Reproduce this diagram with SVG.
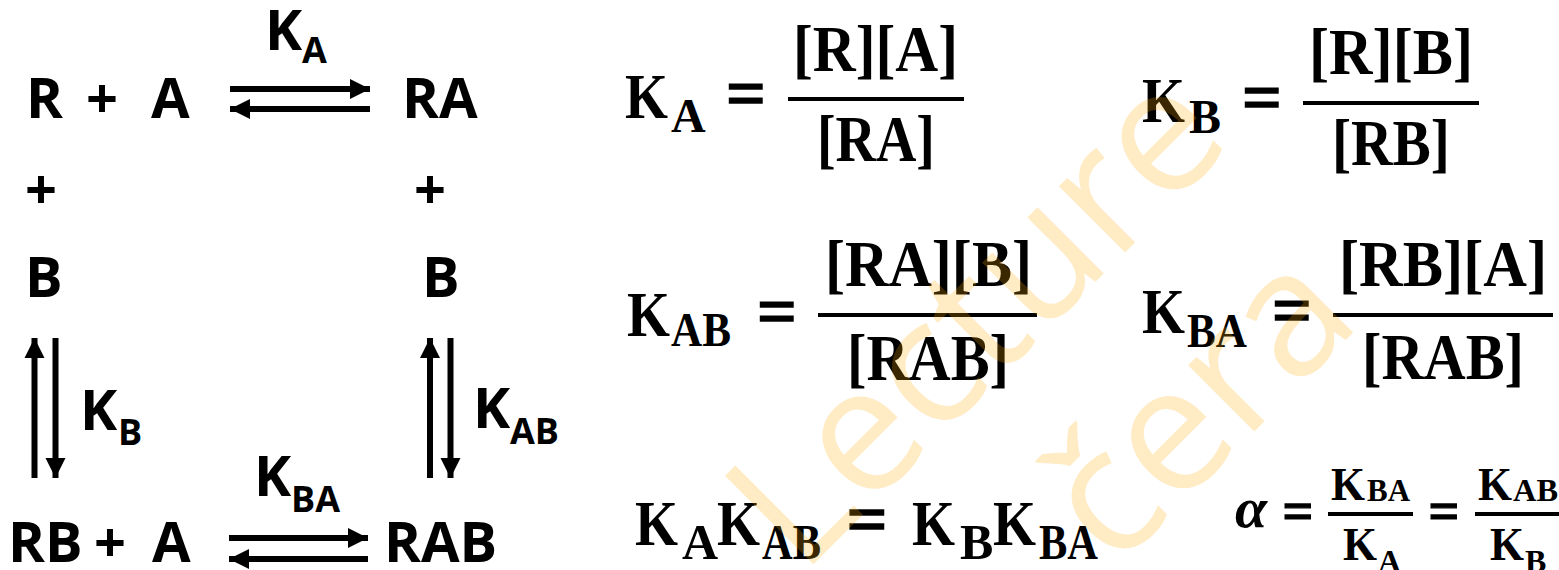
<svg xmlns="http://www.w3.org/2000/svg" width="1559" height="570" viewBox="0 0 1559 570">
<style>
.s{font-family:"Open Sans","Noto Sans",sans-serif;font-weight:700;fill:#000}
.m{font-family:"Liberation Serif","Times New Roman",serif;font-weight:700;fill:#000}
.eq{font-family:"Liberation Serif","Times New Roman",serif;font-weight:700;fill:#000;stroke:#000;stroke-width:1.4}
.ln{stroke:#000;stroke-width:6;fill:none}
.bar{stroke:#000;stroke-width:4}
.wm{font-family:"Open Sans","Noto Sans",sans-serif;font-size:175px;fill:#FFAA00;fill-opacity:0.23}
</style>
<defs>
<marker id="ah" viewBox="0 0 10 10" refX="10" refY="5" markerWidth="3.4" markerHeight="3.4" markerUnits="strokeWidth" orient="auto"><path d="M0,0 L10,5 L0,10 Z" fill="#000"/></marker>
</defs>
<rect width="1559" height="570" fill="#fff"/>

<g id="node-R-A">
<text class="s" x="26" y="118" font-size="56">R</text>
<text class="s" x="102" y="118" font-size="56" text-anchor="middle">+</text>
<text class="s" x="151" y="118" font-size="56">A</text>
</g>
<g id="node-RA"><text class="s" x="402" y="118" font-size="56">RA</text></g>
<g id="node-plus-left"><text class="s" x="41" y="209" font-size="56" text-anchor="middle">+</text></g>
<g id="node-plus-right"><text class="s" x="430" y="209" font-size="56" text-anchor="middle">+</text></g>
<g id="node-B-left"><text class="s" x="25" y="297" font-size="56">B</text></g>
<g id="node-B-right"><text class="s" x="422" y="297" font-size="56">B</text></g>
<g id="node-RB-A">
<text class="s" x="8" y="562" font-size="56">RB</text>
<text class="s" x="110" y="562" font-size="56" text-anchor="middle">+</text>
<text class="s" x="152" y="562" font-size="56">A</text>
</g>
<g id="node-RAB"><text class="s" x="384" y="562" font-size="56">RAB</text></g>

<g id="connectors">
<line class="ln" x1="230" y1="89" x2="370" y2="89" marker-end="url(#ah)"/>
<line class="ln" x1="370" y1="109" x2="230" y2="109" marker-end="url(#ah)"/>
<line class="ln" x1="229" y1="538" x2="368" y2="538" marker-end="url(#ah)"/>
<line class="ln" x1="368" y1="559" x2="229" y2="559" marker-end="url(#ah)"/>
<line class="ln" x1="34.5" y1="478" x2="34.5" y2="338" marker-end="url(#ah)"/>
<line class="ln" x1="55.5" y1="338" x2="55.5" y2="478" marker-end="url(#ah)"/>
<line class="ln" x1="430" y1="478" x2="430" y2="338" marker-end="url(#ah)"/>
<line class="ln" x1="450.5" y1="338" x2="450.5" y2="478" marker-end="url(#ah)"/>
</g>

<g id="label-KA"><text class="s" x="265" y="50" font-size="56">K</text><text class="s" x="302" y="63" font-size="36">A</text></g>
<g id="label-KB"><text class="s" x="80" y="430" font-size="56">K</text><text class="s" x="118" y="445" font-size="36">B</text></g>
<g id="label-KAB"><text class="s" x="473" y="428" font-size="56">K</text><text class="s" x="510" y="444" font-size="36">AB</text></g>
<g id="label-KBA"><text class="s" x="254" y="496" font-size="56">K</text><text class="s" x="291" y="512" font-size="36">BA</text></g>

<g id="eq-KA">
<text class="m" x="625" y="118" font-size="63" textLength="43" lengthAdjust="spacingAndGlyphs">K</text>
<text class="m" x="671" y="132" font-size="48">A</text>
<text class="eq" x="746" y="117" font-size="70" text-anchor="middle">=</text>
<line class="bar" x1="788" y1="99" x2="964" y2="99"/>
<text class="m" x="793" y="71" font-size="65" textLength="165" lengthAdjust="spacingAndGlyphs">[R][A]</text>
<text class="m" x="817" y="161" font-size="65" textLength="118" lengthAdjust="spacingAndGlyphs">[RA]</text>
</g>
<g id="eq-KB">
<text class="m" x="1142" y="122" font-size="63" textLength="43" lengthAdjust="spacingAndGlyphs">K</text>
<text class="m" x="1189" y="133" font-size="48">B</text>
<text class="eq" x="1262" y="121" font-size="70" text-anchor="middle">=</text>
<line class="bar" x1="1303" y1="103" x2="1479" y2="103"/>
<text class="m" x="1309" y="74" font-size="65" textLength="164" lengthAdjust="spacingAndGlyphs">[R][B]</text>
<text class="m" x="1332" y="165" font-size="65" textLength="118" lengthAdjust="spacingAndGlyphs">[RB]</text>
</g>
<g id="eq-KAB">
<text class="m" x="627" y="336" font-size="63" textLength="43" lengthAdjust="spacingAndGlyphs">K</text>
<text class="m" x="671" y="346" font-size="48" textLength="60" lengthAdjust="spacingAndGlyphs">AB</text>
<text class="eq" x="777" y="335" font-size="70" text-anchor="middle">=</text>
<line class="bar" x1="818" y1="315" x2="1037" y2="315"/>
<text class="m" x="825" y="286" font-size="65" textLength="207" lengthAdjust="spacingAndGlyphs">[RA][B]</text>
<text class="m" x="847" y="380" font-size="65" textLength="162" lengthAdjust="spacingAndGlyphs">[RAB]</text>
</g>
<g id="eq-KBA">
<text class="m" x="1142" y="333" font-size="63" textLength="43" lengthAdjust="spacingAndGlyphs">K</text>
<text class="m" x="1187" y="347" font-size="48" textLength="60" lengthAdjust="spacingAndGlyphs">BA</text>
<text class="eq" x="1292" y="334" font-size="70" text-anchor="middle">=</text>
<line class="bar" x1="1333" y1="315" x2="1553" y2="315"/>
<text class="m" x="1339" y="286" font-size="65" textLength="208" lengthAdjust="spacingAndGlyphs">[RB][A]</text>
<text class="m" x="1362" y="379" font-size="65" textLength="162" lengthAdjust="spacingAndGlyphs">[RAB]</text>
</g>
<g id="eq-product">
<text class="m" x="635" y="545" font-size="64" textLength="43" lengthAdjust="spacingAndGlyphs">K</text>
<text class="m" x="682" y="559" font-size="50">A</text>
<text class="m" x="717" y="545" font-size="64" textLength="43" lengthAdjust="spacingAndGlyphs">K</text>
<text class="m" x="762" y="559" font-size="50" textLength="59" lengthAdjust="spacingAndGlyphs">AB</text>
<text class="eq" x="867" y="543" font-size="72" text-anchor="middle">=</text>
<text class="m" x="912" y="545" font-size="64" textLength="43" lengthAdjust="spacingAndGlyphs">K</text>
<text class="m" x="960" y="559" font-size="50">B</text>
<text class="m" x="993" y="545" font-size="64" textLength="43" lengthAdjust="spacingAndGlyphs">K</text>
<text class="m" x="1039" y="559" font-size="50" textLength="59" lengthAdjust="spacingAndGlyphs">BA</text>
</g>
<g id="eq-alpha">
<text class="m" x="1235" y="527" font-size="58" font-style="italic">α</text>
<text class="eq" x="1298" y="529" font-size="54" text-anchor="middle">=</text>
<line class="bar" x1="1328" y1="514" x2="1413" y2="514" stroke-width="3.5"/>
<text class="m" x="1331" y="500" font-size="46" textLength="34" lengthAdjust="spacingAndGlyphs">K</text>
<text class="m" x="1367" y="501" font-size="32" textLength="43" lengthAdjust="spacingAndGlyphs">BA</text>
<text class="m" x="1343" y="560" font-size="46" textLength="34" lengthAdjust="spacingAndGlyphs">K</text>
<text class="m" x="1378" y="572" font-size="32">A</text>
<text class="eq" x="1444" y="529" font-size="54" text-anchor="middle">=</text>
<line class="bar" x1="1475" y1="514" x2="1559" y2="514" stroke-width="3.5"/>
<text class="m" x="1478" y="500" font-size="46" textLength="34" lengthAdjust="spacingAndGlyphs">K</text>
<text class="m" x="1513" y="501" font-size="32" textLength="45" lengthAdjust="spacingAndGlyphs">AB</text>
<text class="m" x="1490" y="560" font-size="46" textLength="34" lengthAdjust="spacingAndGlyphs">K</text>
<text class="m" x="1525" y="572" font-size="32">B</text>
</g>

<g id="watermark" transform="rotate(-45)">
<text class="wm" x="159" y="974">Lecture</text>
<text class="wm" x="385" y="1192">čera</text>
</g>
</svg>
